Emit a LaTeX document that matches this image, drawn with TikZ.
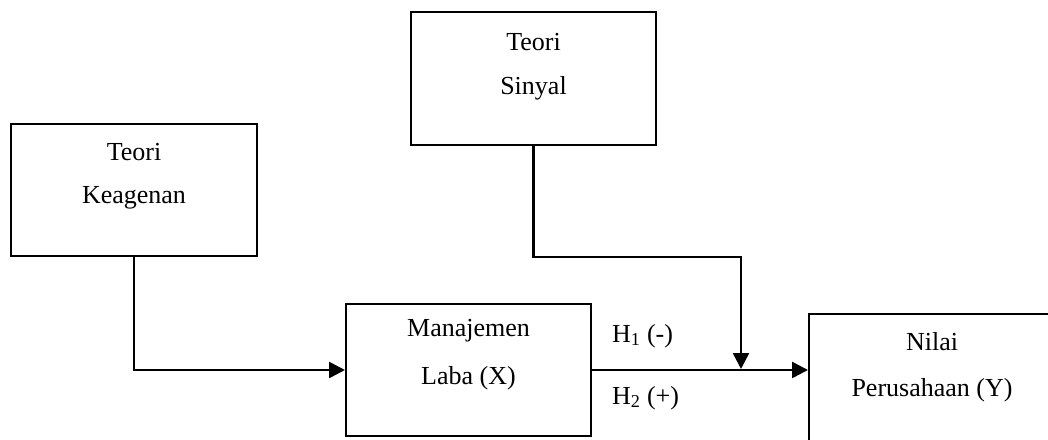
\documentclass[tikz,border=0pt]{standalone}
\usepackage{fontspec}
\setmainfont{Liberation Serif}
\usetikzlibrary{arrows.meta}
\begin{document}
\begin{tikzpicture}[x=1pt,y=-1pt,
  box/.style={draw, line width=2pt, rectangle, inner sep=0pt},
  txt/.style={font=\fontsize{26}{30}\selectfont, inner sep=0pt, anchor=center},
  conn/.style={line width=2.6pt},
  arr/.style={conn, -{Triangle[length=16pt,width=16pt]}}]
\useasboundingbox (0,0) rectangle (1048,439);
\begin{scope}
\clip (0,0) rectangle (1048,439);
% boxes
\node[box, minimum width=246pt, minimum height=132pt] (keag) at (134,190) {};
\node[box, minimum width=245pt, minimum height=133pt] (sinyal) at (533.5,78.5) {};
\node[box, minimum width=245pt, minimum height=132pt] (manaj) at (468.5,370) {};
\node[box, minimum width=480pt, minimum height=300pt, anchor=north west] (nilai) at (808,313) {};
% texts
\node[txt] (t1) at (134,152) {Teori};
\node[txt] (t2) at (134,198) {Keagenan};
\node[txt] (t3) at (533.5,42) {Teori};
\node[txt] (t4) at (533.5,88) {Sinyal};
\node[txt] (t5) at (468.5,331) {Manajemen};
\node[txt] (t6) at (468.5,378) {Laba (X)};
\node[txt] (t7) at (932,342) {Nilai};
\node[txt] (t8) at (932,390) {Perusahaan (Y)};
\node[txt, anchor=west] (h1) at (612,336) {H\textsubscript{1} (-)};
\node[txt, anchor=west] (h2) at (612,398) {H\textsubscript{2} (+)};
% connectors
\coordinate (bend) at (741,257);
\coordinate (join) at (741,369);
\draw[arr] (keag.south) |- (manaj.west);
\draw[arr] (manaj.east) -- (manaj.east -| nilai.west);
\draw[arr] (sinyal.south) |- (bend) -- (join);
\end{scope}
\end{tikzpicture}
\end{document}
